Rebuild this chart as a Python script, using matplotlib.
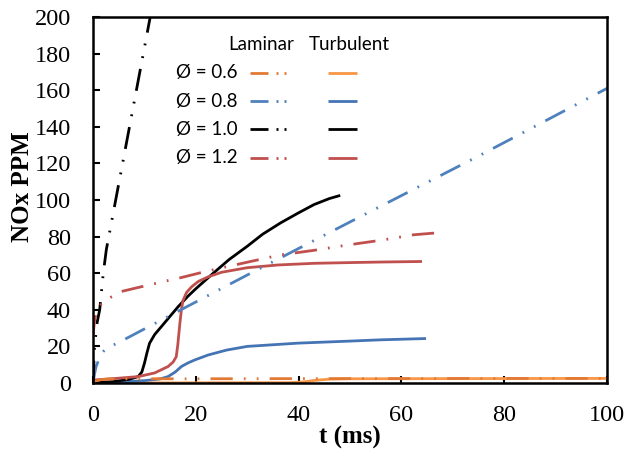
import matplotlib
matplotlib.use("Agg")
import matplotlib.pyplot as plt

plt.rcParams['lines.scale_dashes'] = False

# ---- data (t in ms, NOx in ppm) ----
lam06_t = [0, 0.5, 1.5, 3, 9, 20, 40, 60, 80, 100]
lam06_y = [0, 1.0, 1.8, 2.2, 2.3, 2.3, 2.4, 2.4, 2.5, 2.5]
tur06_t = [0, 20, 38, 41, 43, 46, 50, 70, 100]
tur06_y = [0, 0.1, 0.2, 0.6, 1.4, 2.1, 2.3, 2.4, 2.5]

lam08_t = [0, 0.3, 0.6, 1.6, 2.6, 4.9, 13.3, 30, 50, 75, 100]
lam08_y = [0, 5, 9, 16, 19, 22, 34.4, 59, 88, 124, 161]
tur08_t = [0, 5, 10, 13, 14.6, 16, 17.2, 18.5, 19.8, 22.4, 26, 30, 40, 50, 56, 64.8]
tur08_y = [0, 0.5, 1.3, 2.2, 3.5, 6, 9, 11, 12.6, 15.3, 18, 20, 21.8, 22.9, 23.6, 24.3]

lam10_t = [0, 0.3, 0.8, 1.3, 2.0, 2.6, 11.6]
lam10_y = [0, 20, 33, 40, 60, 73, 207]
tur10_t = [0, 4, 7, 8.8, 9.5, 10, 10.5, 11, 12, 13.3, 15, 16.6, 18.5, 20, 23.4, 26.5, 30, 33, 36.5, 40, 43, 46, 48.1]
tur10_y = [0, 0.8, 2, 3.5, 6, 10.7, 16.5, 21.7, 26.5, 30.8, 36.5, 41.8, 47.5, 51.5, 60, 67.5, 74.7, 81.3, 87.5, 93, 97.5, 100.8, 102.5]

lam12_t = [0, 0.15, 0.3, 0.6, 1.0, 2.0, 2.9, 5.5, 10, 14.6, 17, 22, 30, 36.5, 43, 49.5, 56, 62.4, 66.7]
lam12_y = [25, 30, 34, 38, 41, 44.5, 46, 50, 53, 56, 57.5, 61, 66, 70, 72.5, 75.4, 78, 81, 82]
tur12_t = [0, 4, 8.8, 12, 14.6, 15.6, 16.2, 16.5, 16.9, 17.2, 17.5, 18.2, 19.2, 20.5, 22.4, 25, 30, 36, 43, 50, 56, 64]
tur12_y = [1.6, 2.4, 3.5, 5.5, 9, 11.5, 14.4, 21, 32.6, 40, 45, 49.5, 52.6, 55.5, 58, 60.5, 63, 64.5, 65.4, 65.8, 66.1, 66.4]

x_ticks = [0, 20, 40, 60, 80, 100]
y_ticks = [0, 20, 40, 60, 80, 100, 120, 140, 160, 180, 200]
phi_labels = ["Ø = 0.6", "Ø = 0.8", "Ø = 1.0", "Ø = 1.2"]

# ---- styles ----
c_lam = ['#E27A35', '#4F81BD', '#000000', '#C0504D']
c_tur = ['#F79646', '#4574B4', '#000000', '#C0504D']
dashdotdot = (0, (16, 8, 1.3, 8, 1.3, 8))
lw = 2.0

fig = plt.figure(figsize=(6.28, 4.54), dpi=100)
ax = fig.add_axes([93/628, 1-383/454, (607-93)/628, (383-17)/454])

lam = [(lam06_t, lam06_y), (lam08_t, lam08_y), (lam10_t, lam10_y), (lam12_t, lam12_y)]
tur = [(tur06_t, tur06_y), (tur08_t, tur08_y), (tur10_t, tur10_y), (tur12_t, tur12_y)]

for (t, y), c in zip(tur, c_tur):
    ax.plot(t, y, color=c, lw=lw, solid_capstyle='butt', solid_joinstyle='round')
for (t, y), c in zip(lam, c_lam):
    ax.plot(t, y, color=c, lw=lw, linestyle=dashdotdot, dash_capstyle='butt')

ax.set_xlim(0, 100)
ax.set_ylim(0, 200)
ax.set_xticks(x_ticks)
ax.set_yticks(y_ticks)
ax.tick_params(direction='in', length=5, width=1.5, labelsize=17.5)
ax.tick_params(axis='x', pad=16)
ax.tick_params(axis='y', pad=16)
for lab in ax.get_xticklabels() + ax.get_yticklabels():
    lab.set_fontfamily('Liberation Serif')
for s in ax.spines.values():
    s.set_linewidth(1.8)

ax.set_xlabel('t (ms)', fontfamily='Liberation Serif', fontweight='bold', fontsize=18, labelpad=0)
ax.set_ylabel('NOx PPM', fontfamily='Liberation Serif', fontweight='bold', fontsize=18, labelpad=2)
ax.yaxis.set_label_coords(-(93-34)/514, (383-187)/366)

# ---- custom legend ----
tr = ax.transAxes
def fx(px):
    return (px - 93) / 514
def fy(py):
    return (383 - py) / 366

lf = dict(fontfamily='Lato', fontsize=13.5, transform=tr, va='center')
ax.text(fx(228), fy(44), 'Laminar', ha='left', **lf)
ax.text(fx(309), fy(44), 'Turbulent', ha='left', **lf)
rows = [72.7, 101, 129, 158]
for i, (lab, py) in enumerate(zip(phi_labels, rows)):
    ax.text(fx(176), fy(py), lab, ha='left', **lf)
    ax.plot([fx(250), fx(268)], [fy(py), fy(py)], color=c_lam[i], lw=lw, transform=tr, solid_capstyle='butt')
    for dx in (277, 285):
        ax.plot([fx(dx - 0.8), fx(dx + 0.8)], [fy(py), fy(py)], color=c_lam[i], lw=lw, transform=tr, solid_capstyle='butt')
    ax.plot([fx(328), fx(357)], [fy(py), fy(py)], color=c_tur[i], lw=lw, transform=tr, solid_capstyle='butt')

fig.savefig('out.png', dpi=100)
